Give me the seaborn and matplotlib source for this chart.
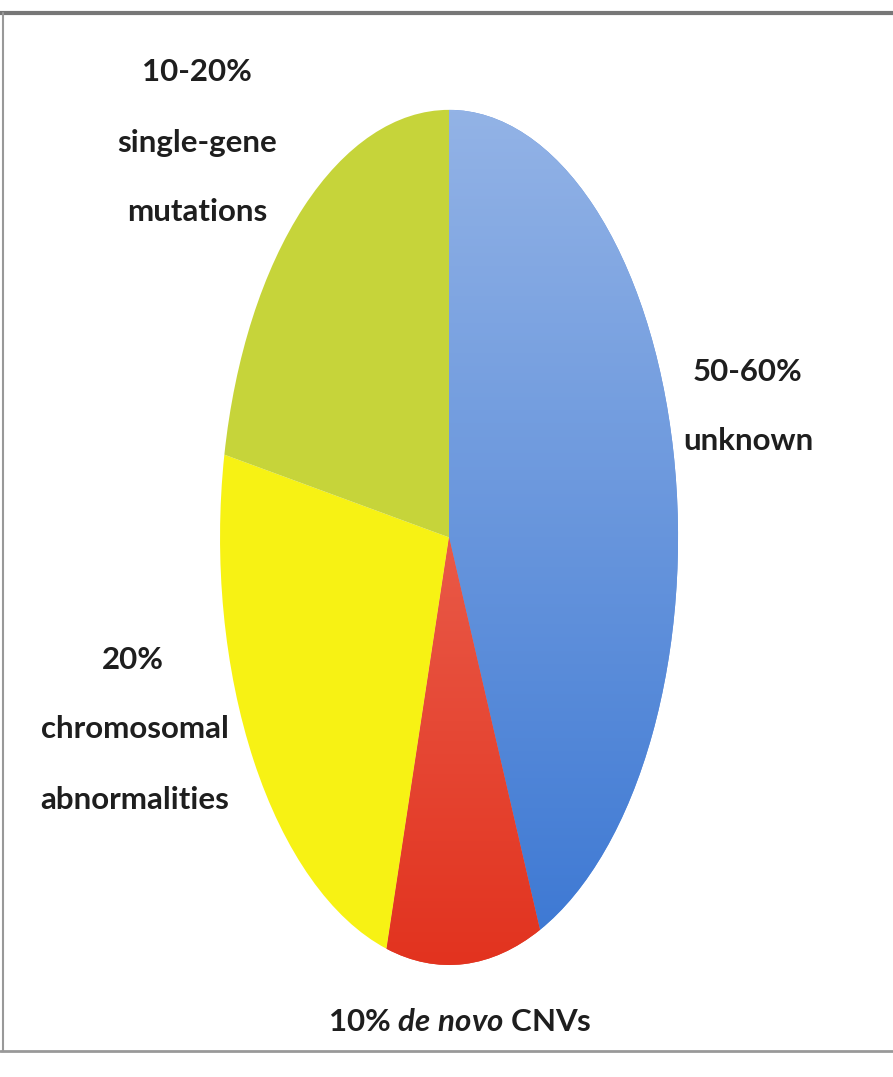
import numpy as np
import matplotlib
matplotlib.use("Agg")
import matplotlib.pyplot as plt
import seaborn as sns

# slice shares (clockwise from 12 o'clock)
labels = ["unknown", "de novo CNVs", "chromosomal abnormalities", "single-gene mutations"]
shares = [43.5, 10.9, 23.7, 21.9]
colors = ["#6593dc", "#e0442f", "#f7f214", "#c6d43a"]

sns.set_style("white")
plt.rcParams['font.family'] = ['Lato', 'DejaVu Sans']
plt.rcParams['mathtext.fontset'] = 'custom'
plt.rcParams['mathtext.it'] = 'Lato:italic:bold'
plt.rcParams['mathtext.rm'] = 'Lato:bold'

fig = plt.figure(figsize=(8.93, 10.77), dpi=100)
ax = fig.add_axes([0.2464, 0.104, 0.5129, 0.794])
wedges, _ = ax.pie(shares, colors=colors, startangle=90, counterclock=False,
                   wedgeprops=dict(linewidth=0))
ax.set_aspect('auto')

# soft vertical gradient on the blue and red slices
grad = np.linspace(0, 1, 256).reshape(-1, 1)
blue_cm = matplotlib.colors.LinearSegmentedColormap.from_list("b", ["#3b77d3", "#93b3e6"])
im = ax.imshow(grad, extent=(-1, 1, -1, 1), origin='lower', cmap=blue_cm,
               aspect='auto', zorder=2)
im.set_clip_path(wedges[0])
red_cm = matplotlib.colors.LinearSegmentedColormap.from_list("r", ["#e2331f", "#f08070"])
im2 = ax.imshow(grad, extent=(-1, 1, -1, 1), origin='lower', cmap=red_cm,
                aspect='auto', zorder=2)
im2.set_clip_path(wedges[1])
ax.set_xlim(-1, 1)
ax.set_ylim(-1, 1)
ax.axis('off')

tk = dict(fontsize=22.5, fontweight='bold', color='#1e1e1e', ha='center', va='center')
fig.text(197 / 893, 1 - 72 / 1077, "10-20%", **tk)
fig.text(197 / 893, 1 - 143 / 1077, "single-gene", **tk)
fig.text(197 / 893, 1 - 212 / 1077, "mutations", **tk)
fig.text(748 / 893, 1 - 372 / 1077, "50-60%", **tk)
fig.text(748 / 893, 1 - 441 / 1077, "unknown", **tk)
fig.text(133 / 893, 1 - 660 / 1077, "20%", **tk)
fig.text(135 / 893, 1 - 729 / 1077, "chromosomal", **tk)
fig.text(135 / 893, 1 - 800 / 1077, "abnormalities", **tk)
fig.text(460 / 893, 1 - 1022 / 1077,
         r"10% $\mathit{de\ novo}$ CNVs", **tk)

# scanned frame lines
fig.add_artist(plt.Line2D([0, 1], [1 - 13 / 1077] * 2, color='#777777', lw=3))
fig.add_artist(plt.Line2D([0, 1], [1 - 1051 / 1077] * 2, color='#999999', lw=2))
fig.add_artist(plt.Line2D([3 / 893] * 2, [1 - 13 / 1077, 1 - 1051 / 1077], color='#999999', lw=1.5))

fig.savefig("out.png", dpi=100)
